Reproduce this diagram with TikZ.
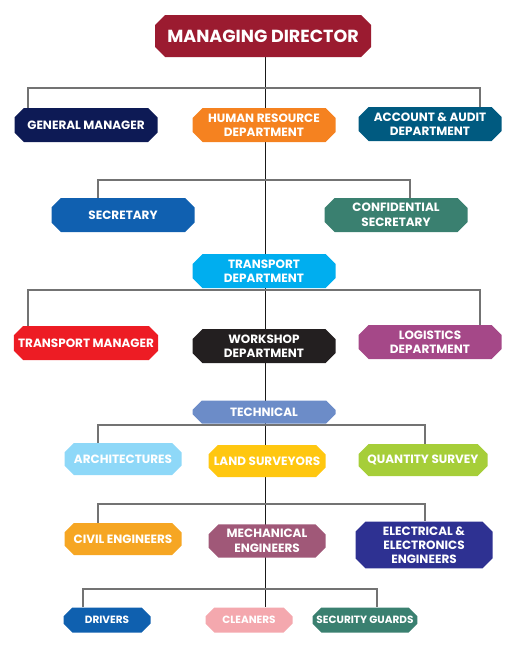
\documentclass[tikz,border=0pt]{standalone}
\usepackage{fontspec}
\setmainfont{Poppins}
\usetikzlibrary{shapes.misc,backgrounds}

\definecolor{mdred}{HTML}{9B1B30}
\definecolor{gmnavy}{HTML}{0D1A55}
\definecolor{hrorange}{HTML}{F58220}
\definecolor{aablue}{HTML}{005A80}
\definecolor{secblue}{HTML}{1060B0}
\definecolor{csgreen}{HTML}{3A8070}
\definecolor{tdcyan}{HTML}{00AEEF}
\definecolor{tmred}{HTML}{ED1C24}
\definecolor{wsblack}{HTML}{231F20}
\definecolor{ldpurple}{HTML}{A54888}
\definecolor{techblue}{HTML}{6C8CC8}
\definecolor{archblue}{HTML}{8ED8F8}
\definecolor{lsyellow}{HTML}{FFC710}
\definecolor{qsgreen}{HTML}{A6CE39}
\definecolor{ceorange}{HTML}{F6A623}
\definecolor{memauve}{HTML}{A05878}
\definecolor{eeindigo}{HTML}{2E3192}
\definecolor{drblue}{HTML}{0F60AF}
\definecolor{clpink}{HTML}{F4A8AE}
\definecolor{sggreen}{HTML}{3A8070}

\tikzset{
  box/.style={chamfered rectangle, chamfered rectangle xsep=5pt,
    chamfered rectangle ysep=5pt, inner sep=0pt, fill=#1, text=white,
    align=center, font=\bfseries\fontsize{12}{14.5}\selectfont},
  wide/.style={minimum width=143pt, minimum height=34pt},
  mid/.style={minimum width=117pt, minimum height=32pt},
  small/.style={minimum width=87pt, minimum height=25pt,
    font=\bfseries\fontsize{10.5}{12}\selectfont},
  bar/.style={draw=black!55, line width=1.2pt},
  trunk/.style={draw=black!90, line width=1pt}
}

\begin{document}
\begin{tikzpicture}[x=1pt, y=-1pt]
\useasboundingbox (0,0) rectangle (523,645);

% Top level
\node[box=mdred, minimum width=216pt, minimum height=42pt,
  font=\bfseries\fontsize{17.5}{20}\selectfont] (md) at (263,36) {MANAGING DIRECTOR};
\node[box=gmnavy, wide] (gm) at (86,125) {GENERAL MANAGER};
\node[box=hrorange, wide] (hr) at (264,125) {HUMAN RESOURCE\\DEPARTMENT};
\node[box=aablue, wide] (aa) at (430,124) {ACCOUNT \& AUDIT\\DEPARTMENT};

% Secretaries
\node[box=secblue, wide] (sec) at (123,215) {SECRETARY};
\node[box=csgreen, wide] (cs) at (396,215) {CONFIDENTIAL\\SECRETARY};

% Transport
\node[box=tdcyan, wide] (td) at (264,271) {TRANSPORT\\DEPARTMENT};
\node[box=tmred, wide] (tm) at (86,343) {TRANSPORT MANAGER};
\node[box=wsblack, wide] (ws) at (264,346) {WORKSHOP\\DEPARTMENT};
\node[box=ldpurple, wide] (ld) at (430,342) {LOGISTICS\\DEPARTMENT};

% Technical
\node[box=techblue, wide, minimum height=23pt] (tech) at (264,412) {TECHNICAL};
\node[box=archblue, mid] (arch) at (123,459) {ARCHITECTURES};
\node[box=lsyellow, mid] (ls) at (267,461) {LAND SURVEYORS};
\node[box=qsgreen, mid, minimum width=129pt] (qs) at (423,460) {QUANTITY SURVEY};

% Engineers
\node[box=ceorange, mid] (ce) at (123,539) {CIVIL ENGINEERS};
\node[box=memauve, mid] (me) at (267,541) {MECHANICAL\\ENGINEERS};
\node[box=eeindigo, mid, minimum width=137pt, minimum height=45pt,
  font=\bfseries\fontsize{12}{14}\selectfont] (ee) at (424,545) {ELECTRICAL \&\\ELECTRONICS\\ENGINEERS};

% Staff
\node[box=drblue, small] (dr) at (107,620) {DRIVERS};
\node[box=clpink, small] (cl) at (249,620) {CLEANERS};
\node[box=sggreen, small, minimum width=101pt] (sg) at (365,620) {SECURITY GUARDS};

% Bar coordinates
\coordinate (tx) at (265,0);
\coordinate (b1l) at (28,88);   \coordinate (b1r) at (480,88);
\coordinate (b2l) at (98,180);  \coordinate (b2r) at (410,180);
\coordinate (b3l) at (28,290);  \coordinate (b3r) at (480,290);
\coordinate (b4l) at (98,425);  \coordinate (b4r) at (425,425);
\coordinate (b5l) at (98,504);  \coordinate (b5r) at (425,504);
\coordinate (b6l) at (83,589);  \coordinate (b6r) at (377,589);

\begin{scope}[on background layer]
\draw[trunk] (md.south -| tx) -- (cl.north -| tx);
\draw[bar] (gm.north -| b1l) -- (b1l) -- (b1r) -- (aa.north -| b1r);
\draw[bar] (sec.north -| b2l) -- (b2l) -- (b2r) -- (cs.north -| b2r);
\draw[bar] (tm.north -| b3l) -- (b3l) -- (b3r) -- (ld.north -| b3r);
\draw[bar] (arch.north -| b4l) -- (b4l) -- (b4r) -- (qs.north -| b4r);
\draw[bar] (ce.north -| b5l) -- (b5l) -- (b5r) -- (ee.north -| b5r);
\draw[bar] (dr.north -| b6l) -- (b6l) -- (b6r) -- (sg.north -| b6r);
\end{scope}
\end{tikzpicture}
\end{document}
